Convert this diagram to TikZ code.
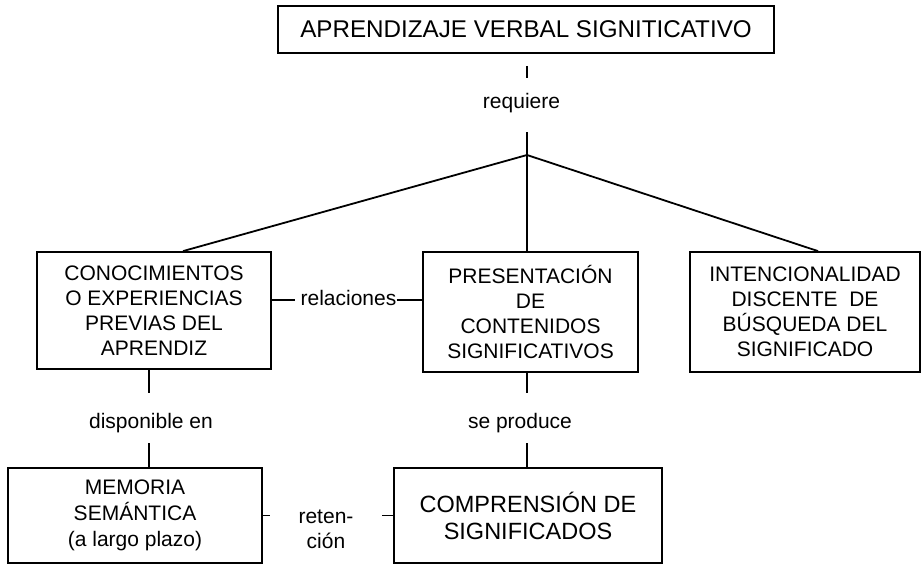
\documentclass[tikz,border=0pt]{standalone}
\usepackage{fontspec}
\setmainfont{Liberation Sans}

\begin{document}
\begin{tikzpicture}[x=1pt, y=-1pt,
        box/.style={draw, line width=1.8pt, inner sep=0pt, align=center, font=\fontsize{21}{25}\selectfont},
        lbl/.style={inner sep=0pt, text height=15pt, text depth=5pt, font=\fontsize{21}{25}\selectfont},
        con/.style={line width=1.8pt}]
        \useasboundingbox (0,0) rectangle (923,565);

        \node[box, minimum width=496pt, minimum height=47pt, font=\fontsize{24.2}{28}\selectfont] (top) at (526,29.5) {APRENDIZAJE VERBAL SIGNITICATIVO};
        \node[box, minimum width=234pt, minimum height=117pt] (conoc) at (154,310.5) {CONOCIMIENTOS\\O EXPERIENCIAS\\PREVIAS DEL\\APRENDIZ};
        \node[box, minimum width=215pt, minimum height=120pt] (pres) at (530.5,312) {PRESENTACIÓN\\DE\\CONTENIDOS\\SIGNIFICATIVOS};
        \node[box, minimum width=230pt, minimum height=120pt] (inten) at (805,312) {INTENCIONALIDAD\\DISCENTE\ \ DE\\BÚSQUEDA DEL\\SIGNIFICADO};
        \node[box, minimum width=254pt, minimum height=95pt, font=\fontsize{21}{26}\selectfont] (mem) at (135,515.5) {MEMORIA\\SEMÁNTICA\\(a largo plazo)};
        \node[box, minimum width=268pt, minimum height=95pt, font=\fontsize{23.5}{27}\selectfont] (comp) at (528,515.5) {COMPRENSIÓN DE\\SIGNIFICADOS};

        \node[lbl] (req) at (521.5,103) {requiere};
        \node[lbl] (rel) at (348.5,300) {relaciones};
        \node[lbl] (disp) at (151,423) {disponible en};
        \node[lbl] (sep) at (520,423) {se produce};
        \node[inner sep=0pt, align=center, font=\fontsize{21}{25}\selectfont] (ret) at (326,529.5) {reten-\\ción};

        \coordinate (j) at (527,155);

        \draw[con, shorten <=12pt, shorten >=15pt] (j |- top.south) -- (j |- req.north);
        \draw[con, shorten <=19pt] (j |- req.south) -- (j);
        \draw[con] (j) -- ([xshift=29pt]conoc.north);
        \draw[con] (j) -- (j |- pres.north);
        \draw[con] (j) -- ([xshift=13pt]inten.north);

        \draw[con, shorten >=5pt] (conoc.east |- rel) -- (rel.west);
        \draw[con] (rel.east) -- (pres.west |- rel);

        \draw[con, shorten >=20pt] ([xshift=-2pt]disp.north |- conoc.south) -- ([xshift=-2pt]disp.north);
        \draw[con, shorten <=10pt] ([xshift=-2pt]disp.south) -- ([xshift=-2pt]disp.south |- mem.north);
        \draw[con, shorten >=20pt] (j |- pres.south) -- (j |- sep.north);
        \draw[con, shorten <=10pt] (j |- sep.south) -- (j |- comp.north);

        \draw[con, shorten >=28pt] (mem.east) -- (ret.west |- mem.east);
        \draw[con, shorten >=28pt] (comp.west) -- (ret.east |- comp.west);
    \end{tikzpicture}
\end{document}
